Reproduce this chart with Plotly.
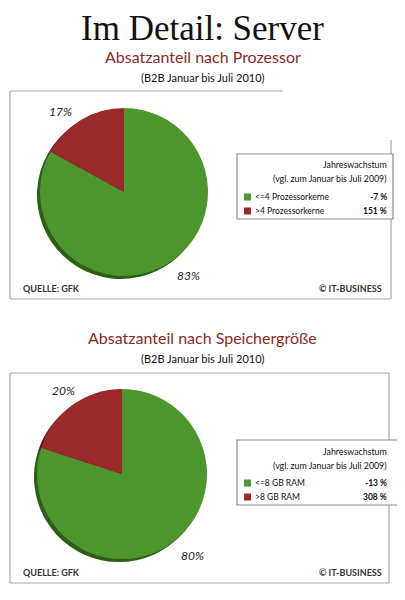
import plotly.graph_objects as go

W, H = 405, 600
OFF = 8  # default body margin of the html page

# Data
title = "Im Detail: Server"
chart_titles = ["Absatzanteil nach Prozessor", "Absatzanteil nach Speichergröße"]
subtitle = "(B2B Januar bis Juli 2010)"
cpu_labels = ["<=4 Prozessorkerne", ">4 Prozessorkerne"]
cpu_share = [83, 17]
cpu_growth = ["-7 %", "151 %"]
ram_labels = ["<=8 GB RAM", ">8 GB RAM"]
ram_share = [80, 20]
ram_growth = ["-13 %", "308 %"]

GREEN, RED = "#4c962d", "#9a2a2a"
GREEN_D, RED_D = "#2c5e18", "#5a1616"
FONT = "Lato, 'Open Sans', sans-serif"
FW, FH = W - OFF, H - OFF


def px(x):
    return (x - OFF) / FW


def py(y):
    return 1 - (y - OFF) / FH


fig = go.Figure()
shapes = []
ann = []


def text(x, y, t, size=9, color="#222", anchor="left", yanchor="middle", **kw):
    ann.append(dict(x=px(x), y=py(y), xref="paper", yref="paper", text=t,
                    showarrow=False, xanchor=anchor, yanchor=yanchor, borderpad=0,
                    font=dict(size=size, color=color, family=kw.pop("family", FONT)), **kw))


def line(x0, y0, x1, y1, color="#a8a8a8", width=1.2):
    shapes.append(dict(type="line", xref="paper", yref="paper", x0=px(x0), y0=py(y0),
                       x1=px(x1), y1=py(y1), line=dict(color=color, width=width)))


def panel(labels, shares, growth, cx, cy, r, top, bottom, right, leg_top, leg_right,
          lbl_pos, full_top=True):
    # shadow pie behind the real one
    for dx, dy, cols in [(-3, 3, [GREEN_D, RED_D]), (0, 0, [GREEN, RED])]:
        fig.add_trace(go.Pie(
            values=shares, labels=labels, sort=False, direction="clockwise",
            rotation=0, textinfo="none", hoverinfo="label+percent", showlegend=False,
            marker=dict(colors=cols, line=dict(width=0)),
            domain=dict(x=[px(cx - r + dx), px(cx + r + dx)],
                        y=[py(cy + r + dy), py(cy - r + dy)]),
        ))
    for (lx, ly), v in zip(lbl_pos, shares):
        text(lx, ly, f"<i>{v}%</i>", size=12, color="#222", anchor="center")
    # frame
    line(10, top, 10, bottom)
    line(10, bottom, right, bottom)
    line(right, top if full_top else top + 49, right, bottom)
    line(10, top, right if full_top else 283, top)
    text(22, bottom - 11, "<b>QUELLE: GFK</b>", size=9, color="#333")
    text(383, bottom - 11, "<b>© IT-BUSINESS</b>", size=9, color="#333", anchor="right")
    # legend box
    shapes.append(dict(type="rect", xref="paper", yref="paper", x0=px(237), x1=px(leg_right),
                       y0=py(leg_top), y1=py(leg_top + 65), fillcolor="white",
                       line=dict(color="#8c8c8c", width=1.2)))
    text(388, leg_top + 11, "Jahreswachstum", size=8.8, color="#111", anchor="right")
    text(388, leg_top + 25, "(vgl. zum Januar bis Juli 2009)", size=8.8, color="#111",
         anchor="right")
    for i, (lab, g, c) in enumerate(zip(labels, growth, [GREEN, RED])):
        yy = leg_top + 43 + i * 14
        shapes.append(dict(type="rect", xref="paper", yref="paper", x0=px(244), x1=px(251),
                           y0=py(yy + 3.5), y1=py(yy - 3.5), fillcolor=c, line=dict(width=0)))
        text(254, yy, lab, size=8.5, color="#111")
        text(388, yy, f"<b>{g}</b>", size=8.5, color="#111", anchor="right")


text(W / 2, OFF, title, size=35, color="#111", anchor="center", yanchor="top",
     family="'Liberation Serif', 'DejaVu Serif', serif")
text(W / 2, 56, chart_titles[0], size=16, color="#8c2b25", anchor="center")
text(W / 2, 77, subtitle, size=11, color="#111", anchor="center")
panel(cpu_labels, cpu_share, cpu_growth, 124, 192, 84, 91, 299, 391, 154, 393,
      [(188, 275), (60, 112)], full_top=False)

text(W / 2, 337, chart_titles[1], size=16, color="#8c2b25", anchor="center")
text(W / 2, 358, subtitle, size=11, color="#111", anchor="center")
panel(ram_labels, ram_share, ram_growth, 122, 474, 85, 373, 583, 389, 440, 403,
      [(192, 555), (63, 390)])

fig.update_layout(width=FW, height=FH, margin=dict(l=0, r=0, t=0, b=0),
                  paper_bgcolor="white", plot_bgcolor="white",
                  shapes=shapes, annotations=ann, showlegend=False)
fig.write_html("out.html", config={"displayModeBar": False})
